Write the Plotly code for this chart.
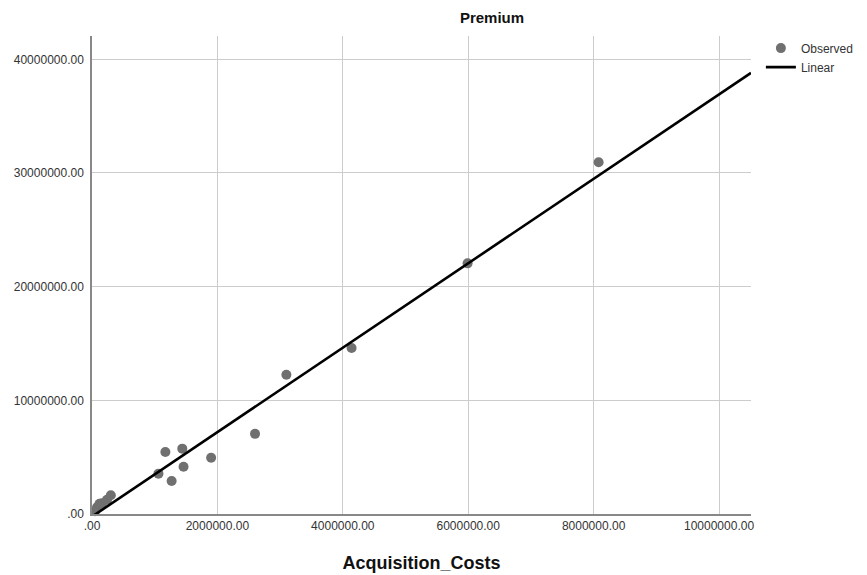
import numpy as np
import plotly.graph_objects as go

acquisition_costs = [50000, 80000, 120000, 160000, 240000, 300000, 1060000, 1170000,
                     1270000, 1440000, 1460000, 1900000, 2600000, 3100000, 4140000,
                     5990000, 8080000]
premium = [250000, 600000, 900000, 950000, 1250000, 1650000, 3550000, 5450000,
           2900000, 5750000, 4150000, 4950000, 7050000, 12250000, 14600000,
           22050000, 30950000]

x_ticks = [0, 2000000, 4000000, 6000000, 8000000, 10000000]
x_tick_labels = [".00", "2000000.00", "4000000.00", "6000000.00", "8000000.00", "10000000.00"]
y_ticks = [0, 10000000, 20000000, 30000000, 40000000]
y_tick_labels = [".00", "10000000.00", "20000000.00", "30000000.00", "40000000.00"]

x_max = 10510000
y_max = 42050000

slope, intercept = np.polyfit(acquisition_costs, premium, 1)
line_x = np.array([0, x_max])
line_y = intercept + slope * line_x

fig = go.Figure()
fig.add_trace(go.Scatter(
    x=acquisition_costs, y=premium, mode="markers", name="Observed",
    marker=dict(color="#707070", size=10),
    cliponaxis=False,
))
fig.add_trace(go.Scatter(
    x=line_x, y=line_y, mode="lines", name="Linear",
    line=dict(color="#000000", width=2.6),
))

font_family = "Liberation Sans, Arial, sans-serif"
fig.update_layout(
    width=859, height=567,
    margin=dict(l=84, r=116, t=28, b=61, autoexpand=False),
    plot_bgcolor="white", paper_bgcolor="white",
    font=dict(family=font_family, size=12, color="#333333"),
    title=dict(text="<b>Premium</b>", x=0.607, xref="paper", xanchor="center",
               y=0.982, yref="container", yanchor="middle",
               font=dict(size=15, color="#111111")),
    showlegend=True,
    legend=dict(x=1.015, y=1.005, xanchor="left", yanchor="top",
                font=dict(size=12, color="#333333"), bgcolor="rgba(0,0,0,0)",
                tracegroupgap=0, itemwidth=30),
    xaxis=dict(
        range=[0, x_max], tickvals=x_ticks, ticktext=x_tick_labels,
        showgrid=True, gridcolor="#cccccc", gridwidth=1,
        showline=True, linecolor="#888888", linewidth=1.5,
        zeroline=False, ticks="", automargin=False,
        title=dict(text="<b>Acquisition_Costs</b>", font=dict(size=18, color="#111111"), standoff=24),
    ),
    yaxis=dict(
        range=[0, y_max], tickvals=y_ticks, ticktext=y_tick_labels,
        showgrid=True, gridcolor="#cccccc", gridwidth=1,
        showline=True, linecolor="#888888", linewidth=1.5,
        zeroline=False, ticks="", ticklabelstandoff=4, automargin=False,
    ),
)

fig.write_html("out.html")
